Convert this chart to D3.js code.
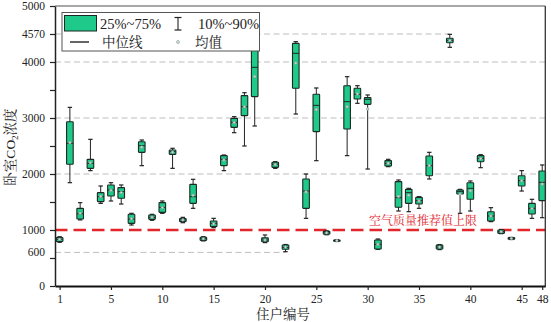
<!DOCTYPE html>
<html><head><meta charset="utf-8">
<script src="https://cdn.jsdelivr.net/npm/d3@7"></script>
<style>
html,body{margin:0;padding:0;background:#fff;}
svg{display:block;}
text{font-family:"Liberation Serif","Noto Serif CJK SC","Noto Sans CJK SC",serif;}
</style></head>
<body>
<svg id="c" width="551" height="322"></svg>
<script>
// ---- data ----
const households = d3.range(1, 49);
const p10 =  [780,1845,1180,2060,1476,1518,1464,1089,2149,1173,1298,2101,1130,1387,805,1042,2060,2738,2500,2857,775,2101,613,3071,1208,2238,915,795,2328,3262,2089,655,2131,1339,1327,1387,1911,650,4262,1298,1339,2113,1149,935,830,1696,1208,1220];
const q1 =   [795,2173,1196,2101,1506,1607,1566,1119,2387,1190,1315,2351,1150,1476,815,1060,2149,2833,3042,3381,790,2119,655,3530,1387,2756,925,800,2804,3339,3244,661,2143,1405,1476,1464,1970,660,4345,1643,1548,2220,1161,940,834,1786,1286,1524];
const median=[835,2548,1290,2190,1595,1714,1685,1196,2506,1226,1405,2399,1180,1595,845,1119,2262,2922,3202,3905,821,2176,690,4155,1696,3226,950,810,3292,3423,3333,744,2190,1577,1667,1524,2149,694,4387,1685,1744,2280,1250,970,848,1881,1387,1851];
const q3 =   [865,2934,1387,2262,1667,1804,1756,1280,2577,1268,1488,2429,1205,1815,870,1161,2328,2994,3399,4250,860,2209,732,4333,1911,3423,975,820,3577,3530,3363,821,2238,1863,1726,1583,2321,730,4423,1714,1845,2328,1327,1000,863,1970,1476,2054];
const p90 =  [880,3190,1488,2619,1786,1845,1804,1298,2607,1280,1518,2459,1226,1905,881,1208,2339,3024,3452,4450,911,2220,741,4363,2000,3536,985,825,3738,3577,3411,839,2262,1893,1744,1595,2387,740,4494,1726,1875,2345,1399,1005,868,2060,1548,2161];
const mean = [835,2560,1300,2200,1600,1710,1670,1200,2480,1228,1400,2390,1180,1620,845,1110,2250,2920,3200,3740,820,2170,695,3980,1680,3150,950,810,3200,3430,3161,745,2190,1600,1620,1520,2150,695,4385,1640,1700,2275,1250,970,848,1880,1385,1820];

const xTickPos = [0,5,10,15,20,25,30,35,40,45,47];
const xTickLabels = ["1","5","10","15","20","25","30","35","40","45","48"];
const yTickValues = [0,500,1000,1500,2000,2500,3000,3500,4000,4500,5000];
const yTickLabels = ["0","","1000","","2000","","3000","","4000","4570","5000"];
const extraLabelVals = [600];
const extraLabels = ["600"];
const gridFull = [2000,3000,4000];
const gridPartial = [600,4500];        // reference lines
const gridPartialEnd = [22,38];        // household index where they stop
const limitValue = 1000;
const limitLabel = "空气质量推荐值上限";

// ---- scales ----
const svg = d3.select("#c");
const L=55, R=545.3, T=6, B=286;
const x = d3.scaleLinear().domain([-0.45,47.3]).range([L,R]);
const y = d3.scaleLinear().domain([0,5000]).range([B,T]);

const data = households.map((h,i)=>({i,p10:p10[i],q1:q1[i],med:median[i],q3:q3[i],p90:p90[i],mean:mean[i]}));

// grid
svg.append("g").selectAll("line").data(gridFull).join("line")
  .attr("x1",L).attr("x2",R).attr("y1",d=>y(d)).attr("y2",d=>y(d))
  .attr("stroke","#bdbdbd").attr("stroke-width",1).attr("stroke-dasharray","6,3.5");
svg.append("g").selectAll("line").data(gridPartial).join("line")
  .attr("x1",L).attr("x2",(d,k)=>x(gridPartialEnd[k])).attr("y1",d=>y(d)).attr("y2",d=>y(d))
  .attr("stroke","#bdbdbd").attr("stroke-width",1).attr("stroke-dasharray","6,3.5");

// limit line
svg.append("line").attr("x1",L).attr("x2",R).attr("y1",y(limitValue)).attr("y2",y(limitValue))
  .attr("stroke","#e3262b").attr("stroke-width",2.6).attr("stroke-dasharray","12.5,6");
svg.append("text").attr("x",369).attr("y",y(limitValue)-5.5).attr("font-size",12)
  .attr("fill","#e3262b").text(limitLabel);

// boxes
const bw = 6.6, cw = 4.4;
const g = svg.append("g").selectAll("g").data(data).join("g");
g.append("line").attr("x1",d=>x(d.i)).attr("x2",d=>x(d.i)).attr("y1",d=>y(d.p10)).attr("y2",d=>y(d.p90))
  .attr("stroke","#222").attr("stroke-width",1);
g.append("line").attr("x1",d=>x(d.i)-cw/2).attr("x2",d=>x(d.i)+cw/2).attr("y1",d=>y(d.p90)).attr("y2",d=>y(d.p90))
  .attr("stroke","#222").attr("stroke-width",1.2);
g.append("line").attr("x1",d=>x(d.i)-cw/2).attr("x2",d=>x(d.i)+cw/2).attr("y1",d=>y(d.p10)).attr("y2",d=>y(d.p10))
  .attr("stroke","#222").attr("stroke-width",1.2);
g.append("rect").attr("x",d=>x(d.i)-bw/2).attr("width",bw)
  .attr("y",d=>y(d.q3)).attr("height",d=>Math.max(1,y(d.q1)-y(d.q3)))
  .attr("fill","#1fc98a").attr("stroke","#1a2a22").attr("stroke-width",1.1).attr("rx",0.6);
g.append("line").attr("x1",d=>x(d.i)-bw/2).attr("x2",d=>x(d.i)+bw/2).attr("y1",d=>y(d.med)).attr("y2",d=>y(d.med))
  .attr("stroke","#1a2a22").attr("stroke-width",1);
g.append("circle").attr("cx",d=>x(d.i)).attr("cy",d=>y(d.mean)).attr("r",1.3)
  .attr("fill","#cfd8d3").attr("stroke","#8a9a92").attr("stroke-width",0.6);

// frame
svg.append("line").attr("x1",L).attr("x2",R).attr("y1",T).attr("y2",T).attr("stroke","#8a8a8a").attr("stroke-width",1.6);
svg.append("line").attr("x1",R).attr("x2",R).attr("y1",T).attr("y2",B).attr("stroke","#333").attr("stroke-width",1.3);

// axes
const ya = svg.append("g").attr("transform",`translate(${L},0)`)
  .call(d3.axisLeft(y).tickValues(yTickValues).tickFormat((d,k)=>yTickLabels[k]).tickSize(5).tickPadding(5).tickSizeOuter(0));
ya.select(".domain").attr("stroke","#222").attr("stroke-width",1.5);
ya.selectAll(".tick line").attr("stroke","#222").attr("stroke-width",1.2);
ya.selectAll("text").attr("font-size",11.5).attr("fill","#222").attr("font-family","Liberation Serif");
svg.append("g").selectAll("text").data(extraLabelVals).join("text")
  .attr("x",L-10).attr("y",d=>y(d)).attr("dy","0.32em").attr("text-anchor","end")
  .attr("font-size",11.5).attr("fill","#222").text((d,k)=>extraLabels[k]);

const xa = svg.append("g").attr("transform",`translate(0,${B})`)
  .call(d3.axisBottom(x).tickValues(xTickPos).tickFormat((d,k)=>xTickLabels[k]).tickSize(4).tickPadding(5).tickSizeOuter(0));
xa.select(".domain").attr("stroke","#111").attr("stroke-width",2);
xa.selectAll(".tick line").attr("stroke","#222").attr("stroke-width",1.2);
xa.selectAll("text").attr("font-size",11.5).attr("fill","#222").attr("font-family","Liberation Serif");

// axis titles
svg.append("text").attr("x",283).attr("y",319).attr("text-anchor","middle").attr("font-size",13.5).attr("fill","#222").text("住户编号");
const yt = svg.append("text").attr("transform","translate(15,147) rotate(-90)").attr("text-anchor","middle")
  .attr("font-size",13.5).attr("fill","#222");
yt.append("tspan").text("卧室CO");
yt.append("tspan").attr("font-size",9).attr("dy",3).text("2");
yt.append("tspan").attr("dy",-3).text("浓度");

// legend
const lg = svg.append("g");
lg.append("rect").attr("x",62).attr("y",12.5).attr("width",197.5).attr("height",38.5)
  .attr("fill","#fff").attr("stroke","#555").attr("stroke-width",1);
lg.append("rect").attr("x",64.5).attr("y",15.5).attr("width",32).attr("height",15.5)
  .attr("fill","#1fc98a").attr("stroke","#1a2a22").attr("stroke-width",1);
lg.append("line").attr("x1",178).attr("x2",178).attr("y1",17.5).attr("y2",30).attr("stroke","#222").attr("stroke-width",1.1);
lg.append("line").attr("x1",174.5).attr("x2",181.5).attr("y1",17.5).attr("y2",17.5).attr("stroke","#222").attr("stroke-width",1.2);
lg.append("line").attr("x1",174.5).attr("x2",181.5).attr("y1",30).attr("y2",30).attr("stroke","#222").attr("stroke-width",1.2);
lg.append("line").attr("x1",70).attr("x2",89).attr("y1",42).attr("y2",42).attr("stroke","#111").attr("stroke-width",1.3);
lg.append("circle").attr("cx",178).attr("cy",42).attr("r",1.5).attr("fill","#d8dedb").attr("stroke","#9aa6a0").attr("stroke-width",0.7);
lg.append("text").attr("x",100).attr("y",29).attr("font-size",14.5).attr("fill","#222").text("25%~75%");
lg.append("text").attr("x",198).attr("y",29).attr("font-size",14.5).attr("fill","#222").text("10%~90%");
lg.append("text").attr("x",102).attr("y",47).attr("font-size",13.5).attr("fill","#222").text("中位线");
lg.append("text").attr("x",195).attr("y",47).attr("font-size",13.5).attr("fill","#222").text("均值");
</script>
</body></html>
